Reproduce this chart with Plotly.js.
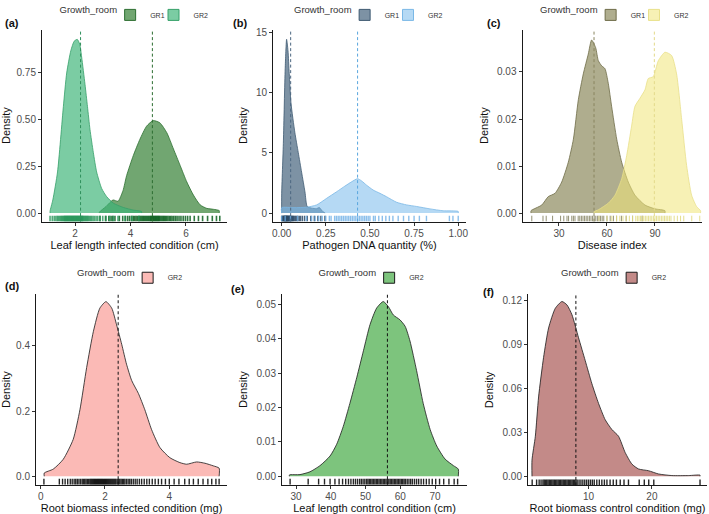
<!DOCTYPE html>
<html>
<head>
<meta charset="utf-8">
<script src="https://cdn.plot.ly/plotly-3.0.1.min.js"></script>
<style>html,body{margin:0;padding:0;background:#fff}#chart{width:709px;height:514px}</style>
</head>
<body>
<div id="chart"></div>
<script>
// ---------------- DATA ----------------
// (a) Leaf length infected condition (cm)
const aGR1x = [2.88, 3.12, 3.37, 3.55, 3.73, 3.86, 4.10, 4.34, 4.58, 4.82, 5.06, 5.31, 5.55, 5.79, 6.03, 6.27, 6.51, 6.75, 6.99, 7.20];
const aGR1y = [0.005, 0.035, 0.070, 0.063, 0.120, 0.200, 0.307, 0.395, 0.465, 0.495, 0.483, 0.430, 0.343, 0.255, 0.167, 0.096, 0.044, 0.025, 0.020, 0.013];
const aGR2x = [1.10, 1.20, 1.37, 1.58, 1.70, 1.85, 1.97, 2.08, 2.17, 2.24, 2.36, 2.45, 2.54, 2.66, 2.78, 2.96, 3.14, 3.38, 3.74, 4.10, 4.40];
const aGR2y = [0.010, 0.070, 0.220, 0.570, 0.750, 0.870, 0.920, 0.930, 0.905, 0.835, 0.690, 0.570, 0.448, 0.325, 0.220, 0.132, 0.088, 0.053, 0.030, 0.016, 0.008];
const aGR1rug = [2.90,3.10,3.22,3.30,3.36,3.44,3.60,3.72,3.82,3.90,3.97,4.04,4.10,4.15,4.20,4.25,4.30,4.34,4.38,4.42,4.46,4.50,4.54,4.58,4.62,4.66,4.70,4.73,4.76,4.79,4.82,4.85,4.88,4.91,4.94,4.97,5.00,5.03,5.06,5.10,5.14,5.18,5.22,5.26,5.30,5.35,5.40,5.45,5.50,5.56,5.62,5.68,5.75,5.82,5.90,5.98,6.06,6.15,6.30,6.45,6.60,6.78,6.95,7.10,7.22];
const aGR2rug = [1.10,1.18,1.25,1.31,1.36,1.40,1.44,1.48,1.51,1.54,1.57,1.60,1.62,1.64,1.66,1.68,1.70,1.72,1.74,1.76,1.78,1.80,1.82,1.84,1.86,1.88,1.90,1.92,1.94,1.96,1.98,2.00,2.02,2.04,2.06,2.08,2.10,2.12,2.14,2.16,2.18,2.20,2.22,2.24,2.26,2.28,2.30,2.33,2.36,2.39,2.42,2.45,2.48,2.52,2.56,2.60,2.65,2.70,2.76,2.82,2.90,3.00,3.12,3.25,3.38,3.55,3.80,4.05,4.30];
const aMeans = [4.79, 2.20]; // GR1, GR2

// (b) Pathogen DNA quantity (%)
const bGR1x = [0.000, 0.010, 0.020, 0.028, 0.036, 0.043, 0.053, 0.075, 0.094, 0.113, 0.132, 0.145, 0.170, 0.198, 0.213, 0.232, 0.245];
const bGR1y = [1.5, 6.0, 12.0, 14.45, 13.5, 11.6, 9.13, 6.68, 5.04, 3.40, 1.77, 0.54, 0.41, 0.37, 0.46, 0.14, 0.02];
const bGR2x = [0.000, 0.070, 0.141, 0.198, 0.255, 0.311, 0.358, 0.396, 0.430, 0.453, 0.481, 0.519, 0.557, 0.594, 0.651, 0.708, 0.764, 0.840, 0.915, 1.000];
const bGR2y = [0.45, 0.45, 0.49, 0.68, 1.23, 1.77, 2.24, 2.60, 2.86, 2.67, 2.32, 1.91, 1.64, 1.36, 0.90, 0.68, 0.55, 0.35, 0.19, 0.14];
const bGR1rug = [0.000,0.003,0.006,0.009,0.011,0.013,0.015,0.017,0.019,0.020,0.022,0.024,0.025,0.027,0.028,0.030,0.032,0.033,0.035,0.037,0.039,0.041,0.043,0.045,0.047,0.050,0.053,0.056,0.059,0.062,0.066,0.070,0.075,0.080,0.086,0.092,0.100,0.108,0.118,0.130,0.145,0.165,0.185,0.205,0.222,0.245];
const bGR2rug = [0.00,0.02,0.05,0.09,0.14,0.17,0.19,0.21,0.23,0.25,0.27,0.28,0.30,0.31,0.32,0.33,0.34,0.35,0.36,0.37,0.38,0.39,0.40,0.41,0.42,0.43,0.44,0.45,0.46,0.47,0.48,0.49,0.50,0.52,0.53,0.55,0.57,0.59,0.61,0.63,0.66,0.69,0.72,0.75,0.78,0.82,0.95,0.97,1.00];
const bMeans = [0.051, 0.43];

// (c) Disease index
const cGR1x = [12.5, 19.2, 23.3, 27.5, 31.7, 35.8, 39.0, 42.1, 45.2, 48.3, 50.4, 52.9, 54.6, 56.7, 58.75, 60.8, 62.9, 66.1, 69.2, 73.3, 77.5, 83.75, 90.0, 96.25];
const cGR1y = [0.0005, 0.0017, 0.0035, 0.0042, 0.0066, 0.0108, 0.0157, 0.0241, 0.0296, 0.0338, 0.0368, 0.0352, 0.0324, 0.0313, 0.0307, 0.0276, 0.0227, 0.0157, 0.0108, 0.0066, 0.0038, 0.0017, 0.0009, 0.0005];
const cGR2x = [52.0, 54.6, 60.8, 65.0, 69.2, 72.3, 75.4, 77.5, 80.6, 83.75, 85.8, 88.9, 92.1, 96.25, 100.4, 103.5, 106.7, 109.8, 112.9, 116.0, 118.5];
const cGR2y = [0.0003, 0.0007, 0.0021, 0.0038, 0.0073, 0.0122, 0.0185, 0.0227, 0.0244, 0.0262, 0.0286, 0.0290, 0.0324, 0.0342, 0.0335, 0.0296, 0.0199, 0.0101, 0.0038, 0.0014, 0.0005];
const cGR1rug = [13,20,22,26,31,33,35,36,38,39,40,42,43,44,45,46,47,48,49,50,51,52,53,54,55,56,57,58,60,62,64,66,69,72,76,82];
const cGR2rug = [55,60,63,66,68,70,72,74,76,78,79,80,81,82,83,84,85,86,87,88,89,90,91,92,93,94,95,96,97,98,99,100,102,104,106,108,113,118];
const cMeans = [51.9, 89.6];

// (d) Root biomass infected condition (mg)
const dGR2x = [0.11, 0.39, 0.70, 1.01, 1.22, 1.43, 1.64, 1.84, 2.03, 2.21, 2.36, 2.52, 2.67, 2.83, 3.04, 3.24, 3.45, 3.71, 4.02, 4.33, 4.54, 4.85, 5.11, 5.37, 5.55];
const dGR2y = [0.010, 0.022, 0.052, 0.113, 0.204, 0.334, 0.445, 0.516, 0.536, 0.516, 0.465, 0.405, 0.344, 0.294, 0.254, 0.204, 0.143, 0.088, 0.057, 0.042, 0.037, 0.044, 0.040, 0.032, 0.025];
const dGR2rug = [0.10,0.58,0.68,0.76,0.84,0.92,0.98,1.04,1.09,1.14,1.19,1.24,1.29,1.33,1.37,1.41,1.45,1.49,1.53,1.56,1.59,1.62,1.65,1.68,1.71,1.74,1.77,1.80,1.83,1.86,1.89,1.92,1.95,1.98,2.01,2.04,2.07,2.10,2.13,2.16,2.19,2.22,2.25,2.28,2.31,2.34,2.38,2.42,2.46,2.50,2.54,2.58,2.62,2.67,2.72,2.77,2.82,2.88,2.94,3.00,3.07,3.14,3.22,3.30,3.38,3.47,3.56,3.66,3.76,3.88,4.00,4.15,4.30,4.48,4.62,4.75,4.90,5.05,5.20,5.32,5.45,5.55];
const dMeans = [2.41];

// (e) Leaf length control condition (cm)
const eGR2x = [28.1, 31.15, 34.0, 36.9, 39.8, 41.7, 43.6, 45.5, 47.5, 49.4, 51.3, 53.2, 55.1, 56.6, 58.0, 59.9, 61.4, 62.8, 64.7, 66.6, 68.6, 70.5, 72.9, 75.3, 76.7];
const eGR2y = [0.0004, 0.0005, 0.0013, 0.0031, 0.0059, 0.0093, 0.0145, 0.0212, 0.0288, 0.0365, 0.0441, 0.0489, 0.0508, 0.0493, 0.0469, 0.0455, 0.0436, 0.0393, 0.0307, 0.0212, 0.0136, 0.0088, 0.0050, 0.0031, 0.0021];
const eGR2rug = [28.3,33.5,36.5,38.2,39.8,41.2,42.4,43.4,44.3,45.1,45.8,46.5,47.1,47.7,48.3,48.8,49.3,49.8,50.3,50.7,51.1,51.5,51.9,52.3,52.7,53.1,53.5,53.9,54.3,54.7,55.1,55.5,55.9,56.3,56.7,57.1,57.5,57.9,58.3,58.7,59.1,59.5,59.9,60.3,60.7,61.1,61.5,62.0,62.5,63.0,63.5,64.1,64.7,65.3,66.0,66.7,67.5,68.3,69.2,70.2,71.3,72.5,74.0,75.5,76.5];
const eMeans = [56.3];

// (f) Root biomass control condition (mg)
const fGR2x = [1.07, 1.60, 2.11, 2.90, 3.69, 4.75, 5.80, 6.59, 7.38, 8.42, 9.48, 10.53, 11.58, 12.63, 13.69, 14.73, 15.79, 16.85, 17.89, 19.46, 21.04, 23.15, 25.8, 27.6];
const fGR2y = [0.011, 0.0273, 0.054, 0.081, 0.101, 0.1144, 0.119, 0.1167, 0.110, 0.0943, 0.0787, 0.063, 0.0496, 0.0385, 0.0318, 0.0273, 0.0161, 0.0083, 0.0050, 0.0038, 0.0016, 0.0005, 0.0005, 0.0008];
const fGR2rug = [1.1,1.8,2.2,2.5,2.8,3.0,3.2,3.4,3.6,3.8,4.0,4.2,4.4,4.6,4.8,5.0,5.2,5.4,5.6,5.8,6.0,6.2,6.4,6.6,6.8,7.0,7.2,7.4,7.6,7.8,8.0,8.2,8.5,8.8,9.1,9.4,9.7,10.0,10.3,10.6,10.9,11.3,11.7,12.1,12.5,12.9,13.4,13.9,14.4,15.0,15.6,16.3,18.0,18.8,19.5,20.3,27.6];
const fMeans = [8.0];

const groupNames = ['GR1', 'GR2'];
const legendTitle = 'Growth_room';
const panelLabels = ['(a)', '(b)', '(c)', '(d)', '(e)', '(f)'];
const xTitles = ['Leaf length infected condition (cm)', 'Pathogen DNA quantity (%)', 'Disease index',
                 'Root biomass infected condition (mg)', 'Leaf length control condition (cm)', 'Root biomass control condition (mg)'];

// ---------------- LAYOUT / STYLE ----------------
const W = 709, H = 514;
const FONT = 'Liberation Sans, Arial, Helvetica, sans-serif';
// pixel boxes [left, right, top, bottom], axis settings, legend title start
const P = [
  {box:[42,227,22,217],  xr:[0.81,7.48],     yr:[-0.046,0.982],     xd:2,    yd:0.25, xf:'',    yf:'.2f', lab:[3,15],   legY:7,   legT:59.5},
  {box:[273,466,22,217], xr:[-0.049,1.044],  yr:[-0.71,15.25],      xd:0.25, yd:5,    xf:'.2f', yf:'',    lab:[231,15], legY:7,   legT:294},
  {box:[522.5,702,22,217], xr:[7.19,119.4],  yr:[-0.00182,0.039],   xd:30,   yd:0.01, xf:'',    yf:'.2f', lab:[485,15], legY:7,   legT:540},
  {box:[36,227,291,484.3], xr:[-0.146,5.795], yr:[-0.026,0.558],    xd:2,    yd:0.2,  xf:'',    yf:'.1f', lab:[3,282],  legY:274, legT:77},
  {box:[282,467,291,484.3], xr:[25.97,79.2], yr:[-0.00246,0.05286], xd:10,   yd:0.01, xf:'',    yf:'.2f', lab:[229,285], legY:274, legT:318.5},
  {box:[528,707,291,485], xr:[0.44,28.7],    yr:[-0.00623,0.1238],  xd:10,   yd:0.03, xf:'',    yf:'.2f', lab:[481,288], legY:274, legT:561}
];

const S = [
  {p:0, g:0, x:aGR1x, y:aGR1y, rug:aGR1rug, m:aMeans[0], fill:'rgba(40,120,40,0.66)',  line:'#2c6e30', rc:'rgba(10,95,30,0.85)', rw:1.6, mc:'#2c6e30'},
  {p:0, g:1, x:aGR2x, y:aGR2y, rug:aGR2rug, m:aMeans[1], fill:'rgba(60,180,120,0.68)', line:'#36a06a', rc:'rgba(40,150,90,0.8)', rw:1.6, mc:'#2f8f5c'},
  {p:1, g:0, x:bGR1x, y:bGR1y, rug:bGR1rug, m:bMeans[0], fill:'rgba(70,100,125,0.7)',  line:'#3f5a72', rc:'rgba(45,75,105,0.85)', rw:1.4, mc:'#4b6680'},
  {p:1, g:1, x:bGR2x, y:bGR2y, rug:bGR2rug, m:bMeans[1], fill:'rgba(120,185,235,0.55)', line:'#7ab8e6', rc:'rgba(110,175,230,0.8)', rw:1.4, mc:'#5aa6de'},
  {p:2, g:0, x:cGR1x, y:cGR1y, rug:cGR1rug, m:cMeans[0], fill:'rgba(110,105,50,0.55)', line:'#6e6c48', rc:'rgba(120,118,80,0.8)', rw:1.0, mc:'#8a8660'},
  {p:2, g:1, x:cGR2x, y:cGR2y, rug:cGR2rug, m:cMeans[1], fill:'rgba(240,230,120,0.55)', line:'#e8e08a', rc:'rgba(225,218,130,0.9)', rw:1.0, mc:'#e3d98a'},
  {p:3, g:1, x:dGR2x, y:dGR2y, rug:dGR2rug, m:dMeans[0], fill:'rgba(248,118,109,0.5)', line:'#1a1a1a', rc:'rgba(0,0,0,0.85)', rw:1.4, mc:'#111'},
  {p:4, g:1, x:eGR2x, y:eGR2y, rug:eGR2rug, m:eMeans[0], fill:'#7dc47d', line:'#1a1a1a', rc:'rgba(0,0,0,0.85)', rw:1.4, mc:'#111'},
  {p:5, g:1, x:fGR2x, y:fGR2y, rug:fGR2rug, m:fMeans[0], fill:'#c38a88', line:'#1a1a1a', rc:'rgba(0,0,0,0.85)', rw:1.4, mc:'#111'}
];

const layout = {
  width: W, height: H, margin: {l:0, r:0, t:0, b:0},
  paper_bgcolor: '#fff', plot_bgcolor: 'rgba(0,0,0,0)',
  font: {family: FONT, color: '#222'},
  showlegend: true, hovermode: false,
  shapes: [], annotations: []
};

const axBase = {showline:true, linecolor:'#1a1a1a', linewidth:1, ticks:'outside', ticklen:3, tickwidth:1,
  tickcolor:'#333', tickfont:{size:10, color:'#4d4d4d', family:FONT}, showgrid:false, zeroline:false,
  fixedrange:true, automargin:false, tickmode:'linear', tick0:0};

P.forEach((p, i) => {
  const n = i === 0 ? '' : String(i + 1);
  const [l, r, t, b] = p.box;
  layout['xaxis' + n] = Object.assign({}, axBase, {
    domain: [l / W, r / W], range: p.xr, dtick: p.xd, tickformat: p.xf, anchor: 'y' + n, ticklabelstandoff: -1,
    title: {text: xTitles[i], font: {size: 11, color: '#111', family: FONT}, standoff: 0}
  });
  layout['yaxis' + n] = Object.assign({}, axBase, {
    domain: [1 - b / H, 1 - t / H], range: p.yr, dtick: p.yd, tickformat: p.yf, anchor: 'x' + n,
    title: {text: 'Density', font: {size: 11, color: '#111', family: FONT}, standoff: 6}
  });
  layout.annotations.push({
    xref: 'paper', yref: 'paper', x: p.lab[0] / W, y: 1 - p.lab[1] / H, xanchor: 'left', yanchor: 'middle',
    text: '<b>' + panelLabels[i] + '</b>', showarrow: false, font: {size: 11, color: '#111', family: FONT}
  });
});

const traces = [];
let legendCounter = 2;
S.forEach(s => {
  const p = P[s.p];
  const n = s.p === 0 ? '' : String(s.p + 1);
  const xa = 'x' + n, ya = 'y' + n;
  const nGroups = S.filter(o => o.p === s.p).length;
  // density polygon (closed to the baseline at both ends)
  traces.push({
    type: 'scatter', mode: 'lines', xaxis: xa, yaxis: ya,
    x: [s.x[0]].concat(s.x, [s.x[s.x.length - 1]]),
    y: [0].concat(s.y, [0]),
    fill: 'toself', fillcolor: s.fill, line: {color: s.line, width: 0.8, shape: 'spline', smoothing: 0.6},
    name: groupNames[s.g], showlegend: false, hoverinfo: 'skip'
  });
  // rug along the bottom of the panel
  const hPx = p.box[3] - p.box[2];
  const rugY = p.yr[0] + (p.yr[1] - p.yr[0]) * (3.0 / hPx);
  traces.push({
    type: 'scatter', mode: 'markers', xaxis: xa, yaxis: ya,
    x: s.rug, y: s.rug.map(() => rugY),
    marker: {symbol: 'line-ns', size: 4.2, line: {color: s.rc, width: s.rw}},
    showlegend: false, hoverinfo: 'skip'
  });
  // legend key: the first key of a panel carries the title, a second key gets its own small legend
  const first = (nGroups === 1) || (s.g === 0);
  const legId = 'legend' + legendCounter++;
  const leg = {
    xanchor: 'left', y: 1 - p.legY / H, yanchor: 'middle',
    orientation: 'h', bgcolor: 'rgba(0,0,0,0)', borderwidth: 0, itemclick: false, itemdoubleclick: false,
    font: {size: 7, color: '#333', family: FONT}, tracegroupgap: 0, itemwidth: 30
  };
  if (first) {
    leg.x = (p.legT - 2) / W;
    leg.indentation = -15;
    leg.title = {text: legendTitle, side: 'left', font: {size: 9.5, color: '#333', family: FONT}};
  } else {
    leg.x = (p.legT + 94) / W;
  }
  layout[legId] = leg;
  traces.push({
    type: 'scatter', mode: 'markers', xaxis: xa, yaxis: ya, x: [null], y: [null],
    marker: {symbol: 'square', size: 11, color: s.fill, line: {color: s.line, width: 1}},
    name: groupNames[s.g], legend: legId, showlegend: true, hoverinfo: 'skip'
  });
  // dashed mean line
  layout.shapes.push({
    type: 'line', xref: xa, yref: ya + ' domain', x0: s.m, x1: s.m, y0: 0, y1: 1,
    line: {color: s.mc, width: 1, dash: '3px,2.5px'}
  });
});

Plotly.newPlot('chart', traces, layout, {displayModeBar: false, staticPlot: true});
</script>
</body>
</html>
